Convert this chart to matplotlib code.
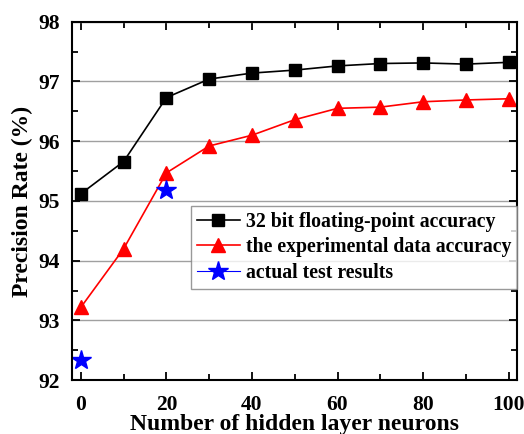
import numpy as np
import matplotlib.pyplot as plt
from matplotlib.ticker import MultipleLocator

plt.rcParams['font.family'] = ['Liberation Serif', 'DejaVu Serif']
plt.rcParams['font.weight'] = 'bold'

neurons = [0, 10, 20, 30, 40, 50, 60, 70, 80, 90, 100]
float_acc = [95.12, 95.66, 96.73, 97.04, 97.14, 97.19, 97.26, 97.30, 97.31, 97.29, 97.32]
exp_acc = [93.22, 94.20, 95.47, 95.92, 96.10, 96.36, 96.55, 96.57, 96.66, 96.69, 96.71]
test_x = [0, 20]
test_acc = [92.34, 95.19]

fig, ax = plt.subplots(figsize=(5.24, 4.34), dpi=100)
fig.subplots_adjust(left=0.138, right=0.987, top=0.95, bottom=0.124)

ax.plot(neurons, float_acc, color='black', marker='s', markersize=8, lw=1.2,
        label='32 bit floating-point accuracy')
ax.plot(neurons, exp_acc, color='red', marker='^', markersize=10, lw=1.2,
        label='the experimental data accuracy')
ax.plot(test_x, test_acc, color='blue', marker='*', markersize=15, lw=0,
        label='actual test results')

ax.set_xlim(-2, 102)
ax.set_ylim(92, 98)
ax.xaxis.set_major_locator(MultipleLocator(20))
ax.xaxis.set_minor_locator(MultipleLocator(10))
ax.yaxis.set_major_locator(MultipleLocator(1))
ax.yaxis.set_minor_locator(MultipleLocator(0.5))
ax.yaxis.grid(True, which='major', color='#a0a0a0', lw=1)
ax.set_axisbelow(True)
ax.tick_params(which='both', direction='in', top=True, right=True, width=1.3, labelsize=15.5)
ax.tick_params(axis='y', pad=9)
ax.tick_params(axis='x', pad=11)
ax.tick_params(which='major', length=6)
ax.tick_params(which='minor', length=4)
for s in ax.spines.values():
    s.set_linewidth(1.5)

ax.set_xlabel('Number of hidden layer neurons', fontsize=17, fontweight='bold', labelpad=-1)
ax.set_ylabel('Precision Rate (%)', fontsize=17, fontweight='bold', labelpad=4)

leg = ax.legend(loc='lower right', bbox_to_anchor=(1.0, 0.255), fontsize=14.2, frameon=True,
                fancybox=False, edgecolor='#808080', borderaxespad=0, handlelength=2.2,
                handletextpad=0.3, borderpad=0.3, labelspacing=0.28)
leg.get_frame().set_linewidth(1)
leg.legend_handles[2].set_linewidth(0.8)
leg.legend_handles[2].set_linestyle('-')

plt.savefig('out.png', dpi=100)
